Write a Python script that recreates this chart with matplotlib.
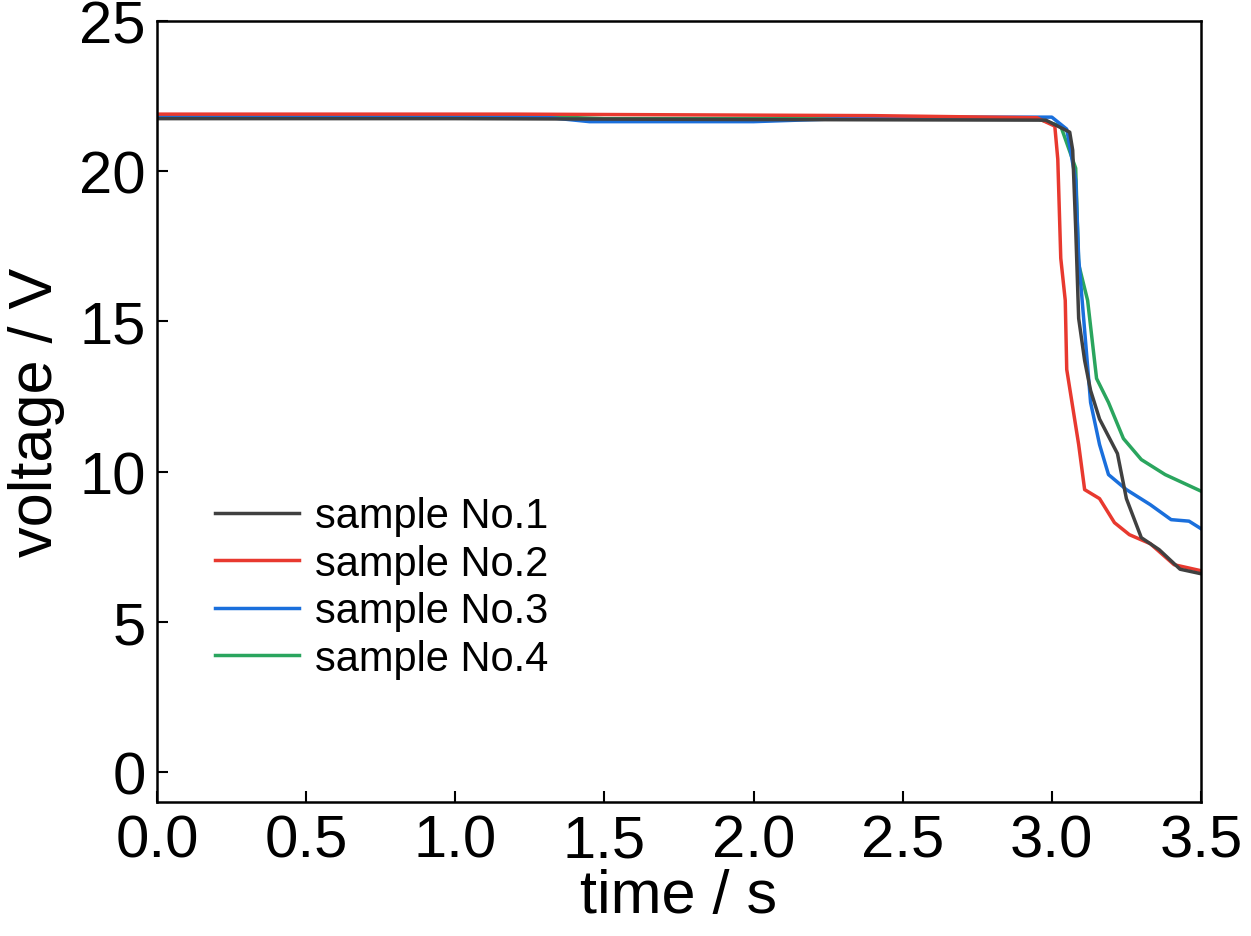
import matplotlib
matplotlib.use("Agg")
import matplotlib.pyplot as plt

plt.rcParams["font.family"] = ["Liberation Sans Narrow", "Liberation Sans", "DejaVu Sans"]

# sample No.1
t1 = [0.0, 1.0, 2.0, 2.98, 3.06, 3.07, 3.08, 3.09, 3.11, 3.13, 3.16, 3.22, 3.25, 3.30, 3.36, 3.43, 3.5]
v1 = [21.75, 21.75, 21.72, 21.7, 21.3, 20.7, 18.1, 15.1, 13.7, 12.7, 11.75, 10.6, 9.1, 7.8, 7.4, 6.75, 6.6]
# sample No.2
t2 = [0.0, 1.2, 2.4, 2.95, 3.01, 3.02, 3.03, 3.045, 3.05, 3.09, 3.11, 3.16, 3.21, 3.26, 3.33, 3.41, 3.5]
v2 = [21.9, 21.9, 21.85, 21.78, 21.5, 20.4, 17.1, 15.7, 13.4, 10.9, 9.4, 9.1, 8.3, 7.9, 7.6, 6.9, 6.7]
# sample No.3
t3 = [0.0, 1.3, 1.45, 2.0, 2.3, 2.6, 3.0, 3.05, 3.08, 3.09, 3.11, 3.13, 3.16, 3.19, 3.25, 3.33, 3.40, 3.46, 3.5]
v3 = [21.8, 21.8, 21.65, 21.65, 21.75, 21.8, 21.8, 21.4, 19.7, 17.1, 14.7, 12.3, 10.9, 9.9, 9.4, 8.9, 8.4, 8.35, 8.1]
# sample No.4
t4 = [0.0, 1.2, 1.5, 2.4, 2.95, 3.03, 3.08, 3.09, 3.12, 3.15, 3.19, 3.24, 3.30, 3.38, 3.5]
v4 = [21.85, 21.85, 21.75, 21.75, 21.75, 21.5, 20.1, 16.9, 15.7, 13.1, 12.3, 11.1, 10.4, 9.9, 9.35]

series = [(t1, v1, "#404040", "sample No.1"),
          (t2, v2, "#e8392f", "sample No.2"),
          (t3, v3, "#1a6fdc", "sample No.3"),
          (t4, v4, "#2aa55e", "sample No.4")]

fig = plt.figure(figsize=(12.51, 9.37), dpi=100)
ax = fig.add_axes([0.1255, 0.143, 0.8345, 0.8335])
for t, v, c, lab in series[::-1]:
    ax.plot(t, v, color=c, lw=2.5, label=lab)
h, l = ax.get_legend_handles_labels()
ax.legend(h[::-1], l[::-1], loc="lower left", bbox_to_anchor=(0.02, 0.11), frameon=False,
          fontsize=30, handlelength=2.0, labelspacing=0.18, handletextpad=0.4)
ax.set_xlim(0, 3.5)
ax.set_ylim(-1, 25)
ax.set_xticks([0, 0.5, 1, 1.5, 2, 2.5, 3, 3.5])
ax.set_xticklabels(["0.0", "0.5", "1.0", "1.5", "2.0", "2.5", "3.0", "3.5"])
ax.set_yticks([0, 5, 10, 15, 20, 25])
ax.tick_params(direction="in", labelsize=43, length=8, width=1.5, pad=8)
for s in ax.spines.values():
    s.set_linewidth(1.8)
ax.set_xlabel("time / s", fontsize=44, labelpad=0)
ax.set_ylabel("voltage / V", fontsize=44, labelpad=10)
fig.savefig("out.png", dpi=100)
